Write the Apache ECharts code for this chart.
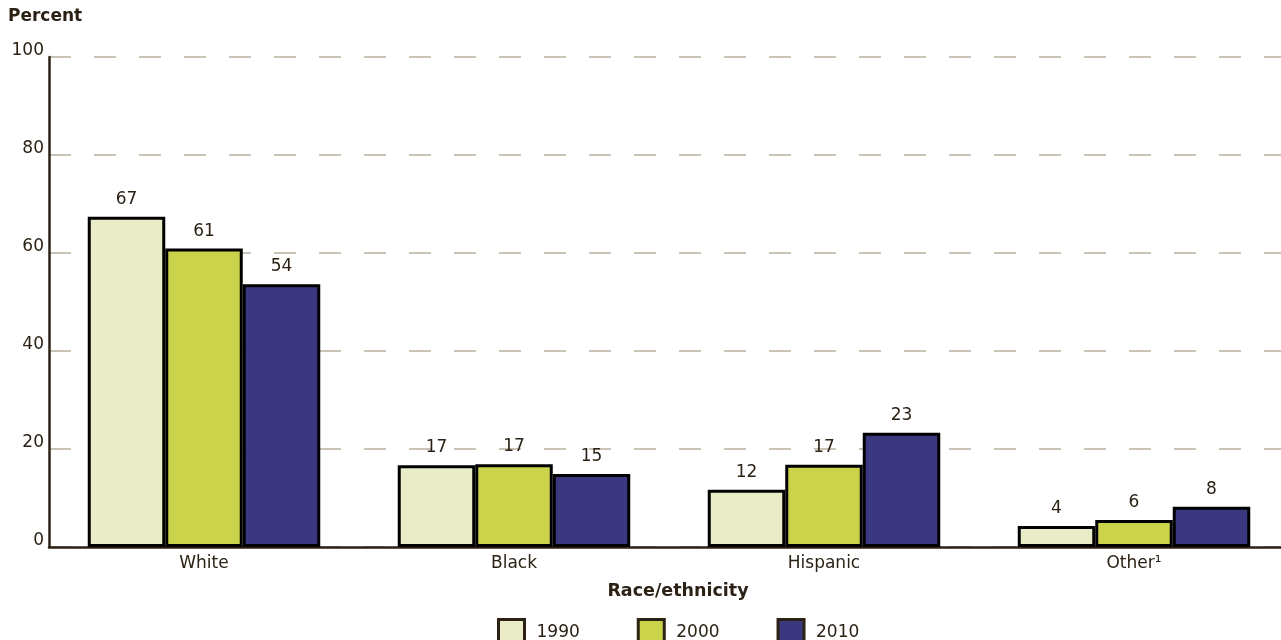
<!DOCTYPE html>
<html>
<head>
<meta charset="utf-8">
<script src="https://cdn.jsdelivr.net/npm/echarts@6/dist/echarts.min.js"></script>
<style>
  html, body { margin: 0; padding: 0; background: #fff; }
  #main { width: 1281px; height: 640px; }
</style>
</head>
<body>
<div id="main"></div>
<script>
// data
var categories = ['White', 'Black', 'Hispanic', 'Other¹'];
var years = ['1990', '2000', '2010'];
var values1990 = [67.4, 16.7, 11.7, 4.3];
var values2000 = [60.9, 16.9, 16.8, 5.5];
var values2010 = [53.6, 14.9, 23.3, 8.2];
var yTicks = [0, 20, 40, 60, 80, 100];

var colors = ['#EAECC8', '#CBD34B', '#3B3880'];
var ink = '#2B2215';
var font = '"DejaVu Sans"';

var myChart = echarts.init(document.getElementById('main'));

function makeSeries(name, data, color) {
  return {
    name: name,
    type: 'bar',
    barWidth: 77.5,
    barGap: '0%',
    data: data,
    itemStyle: {
      color: color,
      borderColor: '#000',
      borderWidth: 3
    },
    label: {
      show: true,
      position: 'top',
      distance: 9,
      color: ink,
      fontFamily: font,
      fontSize: 17,
      formatter: function (p) { return Math.round(p.value); }
    }
  };
}

var option = {
  animation: false,
  textStyle: { fontFamily: font },
  graphic: [
    {
      type: 'text', left: 8, top: 8,
      style: { text: 'Percent', fill: ink, font: 'bold 17px ' + font }
    },
    {
      type: 'text', x: 678, y: 582,
      style: { text: 'Race/ethnicity', fill: ink, font: 'bold 17.5px ' + font, textAlign: 'center' }
    }
  ],
  legend: {
    top: 618,
    left: 497,
    padding: 0,
    itemWidth: 26,
    itemHeight: 26,
    itemGap: 57,
    icon: 'rect',
    textStyle: { color: ink, fontSize: 17, fontFamily: font, padding: [0, 0, 0, 7] },
    itemStyle: { borderColor: ink, borderWidth: 3 },
    data: years
  },
  grid: { left: 49, top: 57, right: -8, height: 490, outerBoundsMode: 'none' },
  xAxis: {
    type: 'category',
    data: categories,
    axisLine: { show: true, lineStyle: { color: ink, width: 2.5 } },
    axisTick: { show: false },
    axisLabel: { color: ink, fontSize: 17, fontFamily: font, margin: 8 }
  },
  yAxis: {
    type: 'value',
    min: yTicks[0],
    max: yTicks[yTicks.length - 1],
    interval: 20,
    axisLine: { show: true, lineStyle: { color: ink, width: 2.5 } },
    axisTick: { show: false },
    axisLabel: { color: ink, fontSize: 17, fontFamily: font, margin: 5, verticalAlign: 'bottom', lineHeight: 12 },
    splitLine: {
      show: true,
      lineStyle: { color: '#C9C3B6', width: 2, type: [22, 23] }
    }
  },
  series: [
    makeSeries(years[0], values1990, colors[0]),
    makeSeries(years[1], values2000, colors[1]),
    makeSeries(years[2], values2010, colors[2])
  ]
};

myChart.setOption(option);
</script>
</body>
</html>
